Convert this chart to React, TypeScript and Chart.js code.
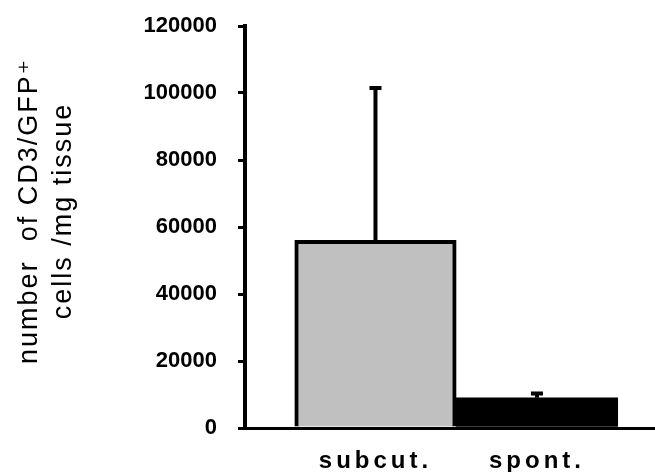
import { useEffect, useRef } from 'react';
import { Chart, registerables, LinearScale } from 'chart.js';

Chart.register(...registerables);

// Groups, mean counts and upper SD of each group
const categories = ['subcut.', 'spont.'];
const cellCounts = [56000, 9000];
const errorUpper = [45500, 1300];
const barColors = ['#c0c0c0', '#000000'];
const yTickValues = [0, 20000, 40000, 60000, 80000, 100000, 120000];
const yTitleLines = ['number  of CD3/GFP\u207A', 'cells /mg tissue'];

const FONT = "'Liberation Sans', Arial, 'DejaVu Sans', sans-serif";

// Linear scale that lets tick labels and the title carry letter spacing
const labelSpacing: Record<string, string> = { x: '4px', y: '0px' };
const titleSpacing = '2px';
const titleShiftY = -16;

class SpacedLinearScale extends LinearScale {
  static id = 'spacedLinear';
  drawLabels(chartArea: any) {
    const ctx = (this as any).ctx;
    ctx.save();
    ctx.letterSpacing = labelSpacing[(this as any).axis] || '0px';
    super.drawLabels(chartArea);
    ctx.restore();
  }
  drawTitle() {
    const ctx = (this as any).ctx;
    ctx.save();
    ctx.letterSpacing = titleSpacing;
    ctx.translate(0, titleShiftY);
    super.drawTitle();
    ctx.restore();
  }
}
Chart.register(SpacedLinearScale);

// Upper error whiskers with a short cap
const errorBarsPlugin = {
  id: 'errorBars',
  afterDatasetsDraw(chart: any) {
    const { ctx, scales } = chart;
    const x = scales.x;
    const y = scales.y;
    ctx.save();
    ctx.strokeStyle = '#000';
    ctx.lineWidth = 4;
    ctx.lineCap = 'butt';
    cellCounts.forEach((v, i) => {
      const px = x.getPixelForValue(i + 1);
      const base = y.getPixelForValue(v);
      const top = y.getPixelForValue(v + errorUpper[i]);
      ctx.beginPath();
      ctx.moveTo(px, base);
      ctx.lineTo(px, top);
      ctx.moveTo(px - 6, top);
      ctx.lineTo(px + 6, top);
      ctx.stroke();
    });
    ctx.restore();
  },
};

export default function App() {
  const canvasRef = useRef<HTMLCanvasElement | null>(null);

  useEffect(() => {
    const canvas = canvasRef.current;
    if (!canvas) return;
    const chart = new Chart(canvas, {
      type: 'bar',
      data: {
        datasets: [
          {
            data: categories.map((_, i) => ({ x: i + 1, y: cellCounts[i] })),
            backgroundColor: barColors,
            borderColor: '#000',
            borderWidth: [4, 0],
            borderSkipped: 'start',
            barPercentage: 1,
            categoryPercentage: 1,
          } as any,
        ],
      },
      options: {
        animation: false,
        responsive: false,
        layout: { padding: { top: 26, right: 0, bottom: 0, left: 0 } },
        plugins: { legend: { display: false }, tooltip: { enabled: false } },
        scales: {
          x: {
            type: 'spacedLinear' as any,
            offset: false,
            min: 0.192,
            max: 2.731,
            afterBuildTicks: (s: any) => {
              s.ticks = categories.map((_, i) => ({ value: i + 1 }));
            },
            afterFit: (s: any) => {
              s.height = 44;
            },
            grid: { display: false, offset: false },
            border: { display: true, color: '#000', width: 3 },
            ticks: {
              callback: (v: any) => categories[Math.round(Number(v)) - 1] ?? '',
              font: { family: FONT, size: 24, weight: 'bold' },
              color: '#000',
              padding: 11,
              maxRotation: 0,
              autoSkip: false,
            },
          },
          y: {
            type: 'spacedLinear' as any,
            min: 0,
            max: 120000,
            afterBuildTicks: (s: any) => {
              s.ticks = yTickValues.map((v) => ({ value: v }));
            },
            afterFit: (s: any) => {
              s.width = 245;
              s.paddingTop = 13;
              s.paddingBottom = 13;
            },
            grid: {
              display: true,
              drawOnChartArea: false,
              drawTicks: true,
              tickLength: 7,
              tickWidth: 3,
              lineWidth: 3,
              color: '#000',
            },
            border: { display: true, color: '#000', width: 4 },
            ticks: {
              callback: (v: any) => String(v),
              font: { family: FONT, size: 22, weight: 'bold' },
              color: '#000',
              padding: 21,
            },
            title: {
              display: true,
              text: yTitleLines,
              font: { family: FONT, size: 27, weight: 'normal', lineHeight: 1.25 },
              color: '#000',
              padding: { top: 13, bottom: 0 },
            },
          },
        },
      },
      plugins: [errorBarsPlugin],
    });
    return () => chart.destroy();
  }, []);

  return (
    <div style={{ position: 'absolute', left: 0, top: 0, width: 655, height: 472, background: '#fff' }}>
      <canvas ref={canvasRef} width={655} height={472} style={{ display: 'block' }} />
    </div>
  );
}
